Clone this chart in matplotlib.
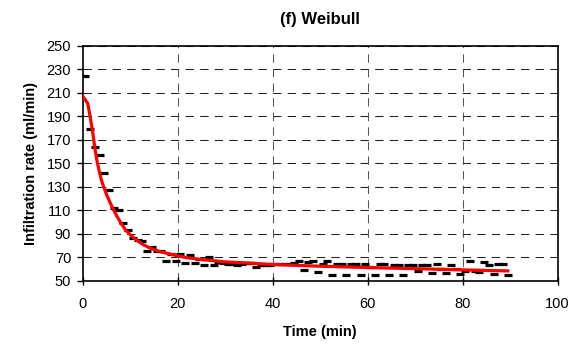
import matplotlib
matplotlib.use("Agg")
import matplotlib.pyplot as plt

plt.rcParams['font.family'] = ['Liberation Sans', 'DejaVu Sans']

# measured infiltration rate (ml/min), one reading per minute
time_min = [0.5, 1.5, 2.5, 3.5, 4.5, 5.5, 6.5, 7.5, 8.5, 9.5,
            10.5, 11.5, 12.5, 13.5, 14.5, 15.5, 16.5, 17.5, 18.5, 19.5,
            20.5, 21.5, 22.5, 23.5, 24.5, 25.5, 26.5, 27.5, 28.5, 29.5,
            30.5, 31.5, 32.5, 33.5, 34.5, 35.5, 36.5, 37.5, 38.5, 39.5,
            40.5, 41.5, 42.5, 43.5, 44.5, 45.5, 46.5, 47.5, 48.5, 49.5,
            50.5, 51.5, 52.5, 53.5, 54.5, 55.5, 56.5, 57.5, 58.5, 59.5,
            60.5, 61.5, 62.5, 63.5, 64.5, 65.5, 66.5, 67.5, 68.5, 69.5,
            70.5, 71.5, 72.5, 73.5, 74.5, 75.5, 76.5, 77.5, 78.5, 79.5,
            80.5, 81.5, 82.5, 83.5, 84.5, 85.5, 86.5, 87.5, 88.5, 89.5]
observed = [224, 179, 164, 157, 142, 127, 112, 110, 99, 93,
            86, 85, 83.5, 75, 79, 75.5, 75, 67, 72.5, 67,
            72.5, 65, 72, 65, 68.5, 63.5, 70, 63.5, 66, 65,
            64, 64, 63.5, 64, 65, 65, 62, 63, 63, 63,
            64, 64, 64, 64, 65, 66.5, 59.5, 66, 66.5, 57.5,
            64, 66.5, 55, 64, 64, 55, 64, 64, 55, 64,
            62, 55, 64, 64, 55, 63.5, 63, 55, 63, 63,
            58, 63, 63, 56.5, 64, 60, 56.5, 63, 60, 55.5,
            58.5, 67, 58.5, 57, 65.5, 63, 55.5, 64, 64, 55]

# Weibull model curve
fit_time = [0, 1.0, 1.5, 2.0, 2.5, 3.0, 3.5, 4, 5, 6, 7, 8, 9, 10,
            11, 12, 13, 14, 15, 16, 17, 18, 19, 20, 22, 25, 28, 30,
            35, 40, 45, 50, 55, 60, 65, 70, 75, 80, 85, 89.5]
fit_rate = [207, 201, 190, 178, 163, 151, 142, 134, 123, 114, 106, 99, 93, 89,
            85.5, 82.5, 80, 78, 76.5, 75, 74, 73, 72, 71, 69.5, 68, 66.8, 66,
            65, 63.8, 63, 62.3, 61.7, 61.2, 60.7, 60.2, 59.7, 59.2, 58.7, 58.3]

fig = plt.figure(figsize=(5.75, 3.45), dpi=100)
ax = fig.add_axes([0.1443, 0.1865, 0.8255, 0.6805])

ax.plot(time_min, observed, linestyle='none', marker='_', color='black',
        markersize=5.5, markeredgewidth=2.3, zorder=3)
ax.plot(fit_time, fit_rate, color='#ff0000', linewidth=2.3, zorder=4)

ax.set_xlim(0, 100)
ax.set_ylim(50, 250)
ax.set_xticks(range(0, 101, 20))
ax.set_yticks(range(50, 251, 20))

for y in range(70, 251, 20):
    ax.axhline(y, color='#222222', linewidth=0.75, dashes=(8, 6), zorder=1)
for x in range(20, 100, 20):
    ax.axvline(x, color='#555555', linewidth=0.75, dashes=(8, 6), zorder=1)

for s in ax.spines.values():
    s.set_linewidth(1.2)
    s.set_color('black')

ax.tick_params(axis='y', direction='out', length=4.5, width=1, labelsize=10.5, pad=4)
ax.tick_params(axis='x', direction='inout', length=6, width=1, labelsize=10.5, pad=9)

ax.set_xlabel('Time (min)', fontsize=10.5, fontweight='bold', labelpad=10)
ax.set_ylabel('Infiltration rate (ml/min)', fontsize=10.5, fontweight='bold', labelpad=6)
ax.set_title('(f) Weibull', fontsize=12, fontweight='bold', pad=16)

fig.savefig('out.png', dpi=100)
